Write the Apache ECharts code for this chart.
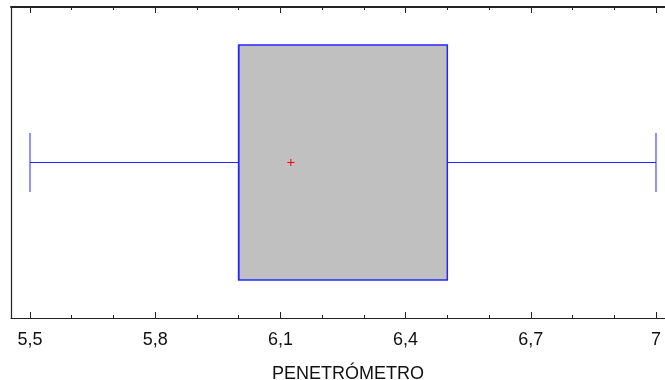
<!DOCTYPE html>
<html>
<head>
<meta charset="utf-8">
<script src="https://cdn.jsdelivr.net/npm/echarts@6/dist/echarts.min.js"></script>
<style>html,body{margin:0;padding:0;background:#fff}#c{width:665px;height:380px}</style>
</head>
<body>
<div id="c"></div>
<script>
// Data
const variableName = 'PENETRÓMETRO';
const boxStats = [5.5, 6.0, 6.0, 6.5, 7.0]; // min, Q1, median, Q3, max
const meanValue = 6.125;
const majorTicks = [5.5, 5.8, 6.1, 6.4, 6.7, 7.0];
const minorTicks = [5.6, 5.7, 5.9, 6.0, 6.2, 6.3, 6.5, 6.6, 6.8, 6.9];
const axisMin = 5.4545, axisMax = 7.0216;

const chart = echarts.init(document.getElementById('c'));
const fmt = v => String(+v.toFixed(1)).replace('.', ',');
const lineCol = '#222';
const font = 'Liberation Sans, Arial';
function xAx(pos, ticks, len, showLine, showLabel, extra) {
  return Object.assign({
    type: 'value', position: pos, min: axisMin, max: axisMax,
    axisLine: { show: showLine, onZero: false, lineStyle: { color: lineCol, width: pos === 'top' ? 2 : 1.2 } },
    axisTick: { show: true, inside: true, length: len, customValues: ticks, lineStyle: { color: lineCol, width: 1 } },
    axisLabel: showLabel ? { show: true, customValues: ticks, formatter: fmt, color: '#111', fontSize: 18, fontFamily: font, margin: 13 } : { show: false },
    splitLine: { show: false }
  }, extra || {});
}
chart.setOption({
  animation: false,
  grid: { left: 11, right: 0, top: 7, bottom: 62, outerBoundsMode: 'none', containLabel: false },
  xAxis: [
    xAx('bottom', majorTicks, 6, true, true, { name: variableName, nameLocation: 'middle', nameGap: 47, nameTextStyle: { fontSize: 18, color: '#111', fontFamily: font, padding: [0, 0, 0, 20] } }),
    xAx('bottom', minorTicks, 3, false, false),
    xAx('top', majorTicks, 6, true, false),
    xAx('top', minorTicks, 3, false, false)
  ],
  yAxis: {
    type: 'value', min: 0, max: 1,
    axisLine: { show: true, lineStyle: { color: lineCol, width: 1.2 } },
    axisTick: { show: false }, axisLabel: { show: false }, splitLine: { show: false }
  },
  series: [{
    type: 'custom',
    xAxisIndex: 0,
    data: [[...boxStats, meanValue]],
    renderItem: function (params, api) {
      const mn = api.value(0), q1 = api.value(1), md = api.value(2), q3 = api.value(3), mx = api.value(4), mean = api.value(5);
      const yc = api.coord([mn, 0.5])[1];
      const yTop = api.coord([mn, 0.878])[1], yBot = api.coord([mn, 0.122])[1];
      const cTop = api.coord([mn, 0.595])[1], cBot = api.coord([mn, 0.405])[1];
      const X = v => api.coord([v, 0.5])[0];
      const blue = '#2626ff';
      const thin = { stroke: blue, lineWidth: 1 };
      return {
        type: 'group',
        children: [
          { type: 'line', shape: { x1: X(mn), y1: yc, x2: X(q1), y2: yc }, style: thin },
          { type: 'line', shape: { x1: X(q3), y1: yc, x2: X(mx), y2: yc }, style: thin },
          { type: 'line', shape: { x1: X(mn), y1: cTop, x2: X(mn), y2: cBot }, style: thin },
          { type: 'line', shape: { x1: X(mx), y1: cTop, x2: X(mx), y2: cBot }, style: thin },
          { type: 'rect', shape: { x: X(q1), y: yTop, width: X(q3) - X(q1), height: yBot - yTop }, style: { fill: '#c0c0c0', stroke: blue, lineWidth: 1.5 } },
          { type: 'line', shape: { x1: X(md), y1: yTop, x2: X(md), y2: yBot }, style: { stroke: blue, lineWidth: 1.5 } },
          { type: 'line', shape: { x1: X(mean) - 3.5, y1: yc, x2: X(mean) + 3.5, y2: yc }, style: { stroke: '#ff0000', lineWidth: 1 } },
          { type: 'line', shape: { x1: X(mean), y1: yc - 3.5, x2: X(mean), y2: yc + 3.5 }, style: { stroke: '#ff0000', lineWidth: 1 } }
        ]
      };
    }
  }]
});
</script>
</body>
</html>
